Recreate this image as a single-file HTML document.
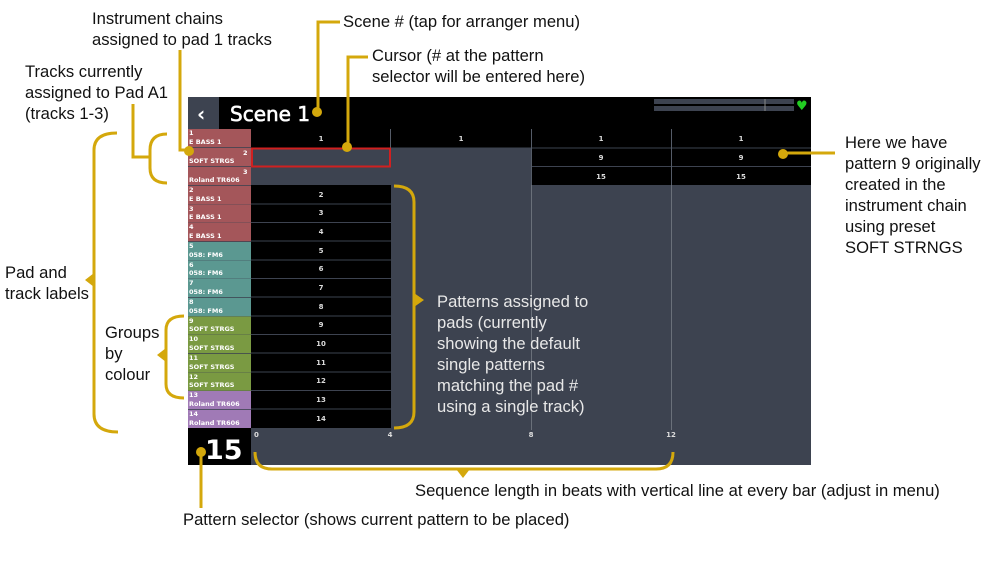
<!DOCTYPE html>
<html><head><meta charset="utf-8"><style>
html,body{margin:0;padding:0;background:#fff;}
svg{display:block;}
.t{font-family:"Liberation Sans","DejaVu Sans",sans-serif;font-size:16.6px;fill:#111;}
.tw{font-family:"Liberation Sans","DejaVu Sans",sans-serif;font-size:16.6px;fill:#e8e8e8;}
.s{font-family:"DejaVu Sans",sans-serif;font-size:6.5px;fill:#fff;font-weight:bold;}
.n{font-family:"DejaVu Sans",sans-serif;font-size:7px;fill:#ddd;text-anchor:middle;font-weight:bold;}
.y{stroke:#d4a80c;stroke-width:3;fill:none;}
</style></head><body>
<svg width="1000" height="563" viewBox="0 0 1000 563" xmlns="http://www.w3.org/2000/svg">
<rect width="1000" height="563" fill="#fff"/>
<rect x="188" y="97" width="623" height="368" fill="#3d4350"/>
<rect x="188" y="97" width="623" height="32" fill="#000"/>
<rect x="188" y="97" width="31" height="32" fill="#3d4350"/>
<text x="197" y="121" style="font-family:'DejaVu Sans',sans-serif;font-size:20px;font-weight:bold;fill:#fff">‹</text>
<text x="230" y="121" style="font-family:'DejaVu Sans',sans-serif;font-size:20px;fill:#fff;stroke:#fff;stroke-width:0.6">Scene 1</text>
<rect x="654" y="99" width="140" height="5" fill="#3d4350"/>
<rect x="654" y="106" width="140" height="5" fill="#3d4350"/>
<line x1="765" y1="99" x2="765" y2="111" stroke="#888" stroke-width="1"/>
<text x="796" y="110" style="font-size:13px;fill:#22cc22;font-family:'DejaVu Sans',sans-serif">♥</text>
<rect x="251" y="129" width="560" height="19" fill="#000"/>
<rect x="531" y="148" width="280" height="37" fill="#000"/>
<g stroke="#3d4350" stroke-width="1">
<line x1="531" y1="166.5" x2="811" y2="166.5"/>
<line x1="251" y1="148" x2="811" y2="148"/>
</g>
<g stroke="#555c68" stroke-width="1">
<line x1="390.5" y1="129" x2="390.5" y2="148"/>
<line x1="531.5" y1="129" x2="531.5" y2="185"/>
<line x1="671.5" y1="129" x2="671.5" y2="185"/>
<line x1="531.5" y1="185" x2="531.5" y2="430" stroke="#6a707a"/>
<line x1="671.5" y1="185" x2="671.5" y2="430" stroke="#6a707a"/>
</g>
<text class="n" x="321" y="141">1</text><text class="n" x="461" y="141">1</text><text class="n" x="601" y="141">1</text><text class="n" x="741" y="141">1</text>
<text class="n" x="601" y="160">9</text><text class="n" x="741" y="160">9</text>
<text class="n" x="601" y="179">15</text><text class="n" x="741" y="179">15</text>
<rect x="252" y="148.5" width="138" height="18" fill="none" stroke="#d02020" stroke-width="2"/>
<rect x="251" y="185" width="140" height="243" fill="#000"/>
<g stroke="#3d4350" stroke-width="1">
<line x1="251" y1="204" x2="391" y2="204"/><line x1="251" y1="222.5" x2="391" y2="222.5"/><line x1="251" y1="241" x2="391" y2="241"/><line x1="251" y1="260" x2="391" y2="260"/><line x1="251" y1="278.5" x2="391" y2="278.5"/><line x1="251" y1="297" x2="391" y2="297"/><line x1="251" y1="316" x2="391" y2="316"/><line x1="251" y1="334.5" x2="391" y2="334.5"/><line x1="251" y1="353" x2="391" y2="353"/><line x1="251" y1="372" x2="391" y2="372"/><line x1="251" y1="390.5" x2="391" y2="390.5"/><line x1="251" y1="409" x2="391" y2="409"/>
</g>
<text class="n" x="321" y="197">2</text><text class="n" x="321" y="215">3</text><text class="n" x="321" y="234">4</text><text class="n" x="321" y="253">5</text><text class="n" x="321" y="271">6</text><text class="n" x="321" y="290">7</text><text class="n" x="321" y="309">8</text><text class="n" x="321" y="327">9</text><text class="n" x="321" y="346">10</text><text class="n" x="321" y="365">11</text><text class="n" x="321" y="383">12</text><text class="n" x="321" y="402">13</text><text class="n" x="321" y="421">14</text>
<g>
<rect x="188" y="129" width="63" height="18.2" fill="#a4565a"/>
<rect x="188" y="148" width="63" height="18.2" fill="#a4565a"/>
<rect x="188" y="167" width="63" height="18.2" fill="#a4565a"/>
<rect x="188" y="186" width="63" height="18.2" fill="#a4565a"/>
<rect x="188" y="204.5" width="63" height="18.2" fill="#a4565a"/>
<rect x="188" y="223" width="63" height="18.2" fill="#a4565a"/>
<rect x="188" y="242" width="63" height="18.2" fill="#5b9891"/>
<rect x="188" y="260.5" width="63" height="18.2" fill="#5b9891"/>
<rect x="188" y="279" width="63" height="18.2" fill="#5b9891"/>
<rect x="188" y="298" width="63" height="18.2" fill="#5b9891"/>
<rect x="188" y="316.5" width="63" height="18.2" fill="#7a9a42"/>
<rect x="188" y="335" width="63" height="18.2" fill="#7a9a42"/>
<rect x="188" y="354" width="63" height="18.2" fill="#7a9a42"/>
<rect x="188" y="372.5" width="63" height="18.2" fill="#7a9a42"/>
<rect x="188" y="391" width="63" height="18.2" fill="#a07ab6"/>
<rect x="188" y="410" width="63" height="18.2" fill="#a07ab6"/>
</g>
<g>
<text class="s" x="189" y="135">1</text><text class="s" x="189" y="144">E BASS 1</text>
<text class="s" x="243" y="155">2</text><text class="s" x="189" y="163">SOFT STRGS</text>
<text class="s" x="243" y="174">3</text><text class="s" x="189" y="182">Roland TR606</text>
<text class="s" x="189" y="192">2</text><text class="s" x="189" y="201">E BASS 1</text>
<text class="s" x="189" y="211">3</text><text class="s" x="189" y="219">E BASS 1</text>
<text class="s" x="189" y="229">4</text><text class="s" x="189" y="238">E BASS 1</text>
<text class="s" x="189" y="248">5</text><text class="s" x="189" y="257">058: FM6</text>
<text class="s" x="189" y="267">6</text><text class="s" x="189" y="275">058: FM6</text>
<text class="s" x="189" y="285">7</text><text class="s" x="189" y="294">058: FM6</text>
<text class="s" x="189" y="304">8</text><text class="s" x="189" y="313">058: FM6</text>
<text class="s" x="189" y="323">9</text><text class="s" x="189" y="331">SOFT STRGS</text>
<text class="s" x="189" y="341">10</text><text class="s" x="189" y="350">SOFT STRGS</text>
<text class="s" x="189" y="360">11</text><text class="s" x="189" y="369">SOFT STRGS</text>
<text class="s" x="189" y="379">12</text><text class="s" x="189" y="387">SOFT STRGS</text>
<text class="s" x="189" y="397">13</text><text class="s" x="189" y="406">Roland TR606</text>
<text class="s" x="189" y="416">14</text><text class="s" x="189" y="425">Roland TR606</text>
</g>
<rect x="188" y="428" width="63" height="37" fill="#000"/>
<text x="205" y="459" style="font-family:'DejaVu Sans',sans-serif;font-size:27px;font-weight:bold;fill:#fff">15</text>
<text class="n" x="254" y="437" style="text-anchor:start">0</text>
<text class="n" x="390" y="437">4</text><text class="n" x="531" y="437">8</text><text class="n" x="671" y="437">12</text>
<g class="y">
<path d="M180 50 V150 H188"/>
<path d="M133 104 V157 H150"/>
<path d="M167 134 Q150 134 150 150 V168 Q150 183 167 183"/>
<path d="M340 22 H318 V110"/>
<path d="M368 57 H348 V146"/>
<path d="M835 153 H785"/>
<path d="M117 133 Q94 133 94 150 V414 Q94 432 118 432"/>
<path d="M184 316 Q166 316 166 330 V384 Q166 398 184 398"/>
<path d="M394 186 Q414 186 414 202 V412 Q414 428 394 428"/>
<path d="M255 452 Q255 469 272 469 H656 Q673 469 673 452"/>
<path d="M201 452 V508"/>
</g>
<g fill="#d4a80c">
<circle cx="189" cy="151" r="5"/>
<circle cx="317" cy="112" r="5"/>
<circle cx="347" cy="147" r="5"/>
<circle cx="783" cy="154" r="5"/>
<circle cx="201" cy="452" r="5"/>
<polygon points="85,280 94,273 94,287"/>
<polygon points="157,355 166,348 166,362"/>
<polygon points="424,300 414,293 414,307"/>
<polygon points="463,478 456,469 470,469"/>
</g>
<text class="t" x="92" y="24">Instrument chains</text>
<text class="t" x="92" y="45">assigned to pad 1 tracks</text>
<text class="t" x="25" y="77">Tracks currently</text>
<text class="t" x="25" y="98">assigned to Pad A1</text>
<text class="t" x="25" y="119">(tracks 1-3)</text>
<text class="t" x="343" y="27">Scene # (tap for arranger menu)</text>
<text class="t" x="372" y="61">Cursor (# at the pattern</text>
<text class="t" x="372" y="82">selector will be entered here)</text>
<text class="t" x="845" y="148">Here we have</text>
<text class="t" x="845" y="169">pattern 9 originally</text>
<text class="t" x="845" y="190">created in the</text>
<text class="t" x="845" y="211">instrument chain</text>
<text class="t" x="845" y="232">using preset</text>
<text class="t" x="845" y="253">SOFT STRNGS</text>
<text class="t" x="5" y="278">Pad  and</text>
<text class="t" x="5" y="299">track labels</text>
<text class="t" x="105" y="338">Groups</text>
<text class="t" x="105" y="359">by</text>
<text class="t" x="105" y="380">colour</text>
<text class="tw" x="437" y="307">Patterns assigned to</text>
<text class="tw" x="437" y="328">pads (currently</text>
<text class="tw" x="437" y="349">showing the default</text>
<text class="tw" x="437" y="370">single patterns</text>
<text class="tw" x="437" y="391">matching the pad #</text>
<text class="tw" x="437" y="412">using a single track)</text>
<text class="t" x="415" y="496">Sequence length in beats with vertical line at every bar (adjust in menu)</text>
<text class="t" x="183" y="525">Pattern selector (shows current pattern to be placed)</text>
</svg>
</body></html>
